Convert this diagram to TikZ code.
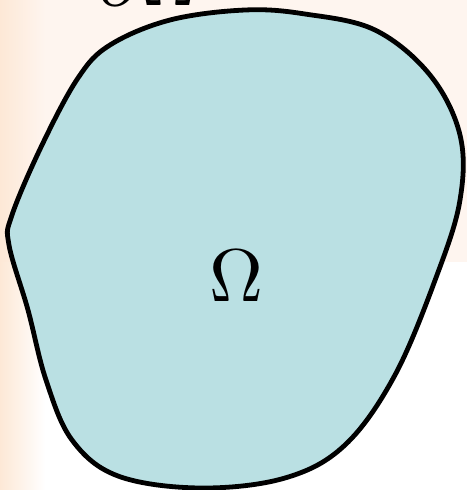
\documentclass[tikz,border=0pt]{standalone}
\usepackage{graphicx}
\usetikzlibrary{positioning}
\definecolor{domainfill}{HTML}{BAE0E3}
\definecolor{peach}{HTML}{FEF5EF}
\definecolor{peachdark}{HTML}{FDE8D6}
\newcommand{\bigmath}[1]{\scalebox{5.6}{$#1$}}
\begin{document}
\begin{tikzpicture}[x=0.75pt, y=-0.75pt,
    region/.style={draw=black, line width=3.6pt, fill=domainfill},
    label/.style={inner sep=0pt},
]
    % Frame and background
    \useasboundingbox (0,0) rectangle (467,490);
    \clip (0,0) rectangle (467,490);
    \fill[white] (0,0) rectangle (467,490);
    \fill[peach] (0,0) rectangle (467,262);
    \shade[left color=peachdark, right color=peach] (0,0) rectangle (45,262);
    \shade[left color=peachdark, right color=white] (0,262) rectangle (45,490);

    % Domain
    \draw[region] plot[smooth cycle, tension=0.6] coordinates {
        (245,10) (170,20) (110,45) (78,78) (42,145) (12,215) (9,245)
        (28,310) (46,380) (72,440) (118,476) (200,488) (285,478)
        (345,445) (395,375) (437,275) (460,200) (460,135) (430,75)
        (375,30) (305,14)};
    \node[label] (omega) at (236,276) {\bigmath{\Omega}};

    % Boundary label (cut at top)
    \node[label, anchor=base east] (surface) at (196,5) {\bigmath{S=\partial\Omega}};
\end{tikzpicture}
\end{document}
